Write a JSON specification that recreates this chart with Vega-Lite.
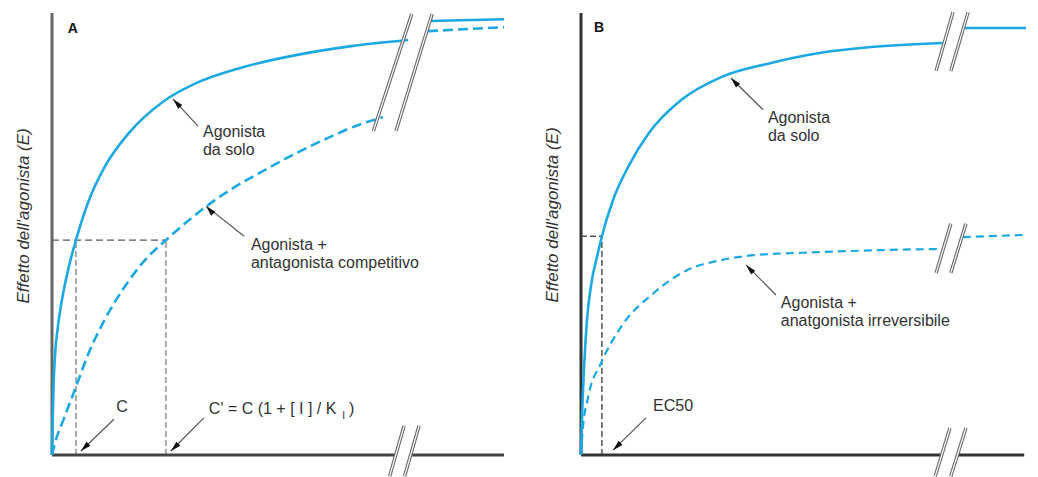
{
  "$schema": "https://vega.github.io/schema/vega-lite/v6.json",
  "background": "white",
  "padding": {"left": 14, "top": 10, "right": 0, "bottom": 0},
  "autosize": {"type": "pad"},
  "bounds": "flush",
  "spacing": 77,
  "config": {"view": {"stroke": null}, "font": "Liberation Sans"},
  "hconcat": [
    {
      "width": 452,
      "height": 442,
      "encoding": {
        "x": {"field": "x", "type": "quantitative", "scale": {"domain": [0, 100], "nice": false}, "axis": null},
        "y": {"field": "y", "type": "quantitative", "scale": {"domain": [0, 100], "nice": false}, "axis": null}
      },
      "layer": [
        {
          "data": {"values": [{"x": -5.1, "y": 54.1, "t": "Effetto dell'agonista (E)"}]},
          "mark": {"type": "text", "angle": 270, "align": "center", "baseline": "alphabetic", "fontSize": 17, "fontStyle": "italic", "font": "Liberation Sans", "color": "#333333"},
          "encoding": {"text": {"field": "t", "type": "nominal"}}
        },
        {
          "data": {"values": [{"x": 0, "y": 48.6, "x2": 25.2, "y2": 48.6}]},
          "mark": {"type": "rule", "color": "#555555", "strokeWidth": 1.2, "strokeDash": [7, 4]},
          "encoding": {"x2": {"field": "x2"}, "y2": {"field": "y2"}}
        },
        {
          "data": {"values": [{"x": 5.3, "y": 0, "x2": 5.3, "y2": 48.6}, {"x": 25.2, "y": 0, "x2": 25.2, "y2": 48.6}]},
          "mark": {"type": "rule", "color": "#aaaaaa", "strokeWidth": 2, "strokeDash": [6, 3]},
          "encoding": {"x2": {"field": "x2"}, "y2": {"field": "y2"}}
        },
        {
          "data": {"values": [{"x": 0, "y": 0, "x2": 0, "y2": 100}]},
          "mark": {"type": "rule", "color": "#666666", "strokeWidth": 3},
          "encoding": {"x2": {"field": "x2"}, "y2": {"field": "y2"}}
        },
        {
          "data": {"values": [{"x": 0, "y": 0, "x2": 76.0, "y2": 0}, {"x": 79.3, "y": 0, "x2": 100, "y2": 0}]},
          "mark": {"type": "rule", "color": "#444444", "strokeWidth": 3},
          "encoding": {"x2": {"field": "x2"}, "y2": {"field": "y2"}}
        },
        {
          "data": {"values": [
            {"seg": 1, "x": 0, "y": 0}, {"seg": 1, "x": 0.15, "y": 8}, {"seg": 1, "x": 0.35, "y": 16}, {"seg": 1, "x": 0.7, "y": 23},
            {"seg": 1, "x": 1.3, "y": 29}, {"seg": 1, "x": 2.1, "y": 34.5}, {"seg": 1, "x": 3.7, "y": 42.5}, {"seg": 1, "x": 5.3, "y": 48.6},
            {"seg": 1, "x": 8.0, "y": 57.2}, {"seg": 1, "x": 11.5, "y": 64.9}, {"seg": 1, "x": 16.8, "y": 72.6}, {"seg": 1, "x": 24.8, "y": 80.1},
            {"seg": 1, "x": 31.4, "y": 83.9}, {"seg": 1, "x": 41.8, "y": 87.6}, {"seg": 1, "x": 55.1, "y": 90.7}, {"seg": 1, "x": 66.2, "y": 92.5},
            {"seg": 1, "x": 78.8, "y": 93.9},
            {"seg": 2, "x": 83.4, "y": 98.2}, {"seg": 2, "x": 100, "y": 98.6}
          ]},
          "mark": {"type": "line", "color": "#1ca8e3", "strokeWidth": 2.6, "interpolate": "monotone"},
          "encoding": {"detail": {"field": "seg"}}
        },
        {
          "data": {"values": [
            {"seg": 1, "x": 0, "y": 0}, {"seg": 1, "x": 0.6, "y": 2.5}, {"seg": 1, "x": 2.7, "y": 8.4}, {"seg": 1, "x": 5.3, "y": 15.4},
            {"seg": 1, "x": 8.0, "y": 22.8}, {"seg": 1, "x": 11.5, "y": 30.3}, {"seg": 1, "x": 15.9, "y": 37.8}, {"seg": 1, "x": 20.4, "y": 43.9},
            {"seg": 1, "x": 25.2, "y": 48.6}, {"seg": 1, "x": 35.8, "y": 57.5}, {"seg": 1, "x": 47.8, "y": 64.9}, {"seg": 1, "x": 59.5, "y": 71.0},
            {"seg": 1, "x": 68.4, "y": 74.9}, {"seg": 1, "x": 73.2, "y": 76.4},
            {"seg": 2, "x": 83.2, "y": 95.9}, {"seg": 2, "x": 100, "y": 96.8}
          ]},
          "mark": {"type": "line", "color": "#1ca8e3", "strokeWidth": 2.6, "strokeDash": [10, 5], "interpolate": "monotone"},
          "encoding": {"detail": {"field": "seg"}}
        },
        {
          "data": {"values": [
            {"x": 79.6, "y": 99.8, "x2": 71.1, "y2": 73.3}, {"x": 84.1, "y": 99.8, "x2": 76.1, "y2": 73.3},
            {"x": 77.9, "y": 6.6, "x2": 74.7, "y2": -4.8}, {"x": 81.2, "y": 6.6, "x2": 78.0, "y2": -4.8}
          ]},
          "layer": [
            {"mark": {"type": "rule", "color": "#666666", "strokeWidth": 3.4}, "encoding": {"x2": {"field": "x2"}, "y2": {"field": "y2"}}},
            {"mark": {"type": "rule", "color": "#ffffff", "strokeWidth": 1.2}, "encoding": {"x2": {"field": "x2"}, "y2": {"field": "y2"}}}
          ]
        },
        {
          "data": {"values": [
            {"x": 32.3, "y": 74.4, "x2": 26.8, "y2": 80.5, "dir": "ul"},
            {"x": 42.5, "y": 49.5, "x2": 34.1, "y2": 56.3, "dir": "ul"},
            {"x": 13.7, "y": 8.1, "x2": 6.4, "y2": 0.9, "dir": "dl"},
            {"x": 33.6, "y": 8.4, "x2": 26.3, "y2": 0.9, "dir": "dl"}
          ]},
          "layer": [
            {"mark": {"type": "rule", "color": "#555555", "strokeWidth": 1.2}, "encoding": {"x2": {"field": "x2"}, "y2": {"field": "y2"}}},
            {
              "transform": [{"filter": "datum.dir === 'ul'"}],
              "mark": {"type": "point", "shape": "M0,0L0.6,2.2L-0.6,2.2Z", "filled": true, "color": "#111111", "size": 90, "angle": -43, "opacity": 1},
              "encoding": {
                "x": {"field": "x2", "type": "quantitative", "scale": {"domain": [0, 100], "nice": false}, "axis": null},
                "y": {"field": "y2", "type": "quantitative", "scale": {"domain": [0, 100], "nice": false}, "axis": null}
              }
            },
            {
              "transform": [{"filter": "datum.dir === 'dl'"}],
              "mark": {"type": "point", "shape": "M0,0L0.6,2.2L-0.6,2.2Z", "filled": true, "color": "#111111", "size": 90, "angle": -134, "opacity": 1},
              "encoding": {
                "x": {"field": "x2", "type": "quantitative", "scale": {"domain": [0, 100], "nice": false}, "axis": null},
                "y": {"field": "y2", "type": "quantitative", "scale": {"domain": [0, 100], "nice": false}, "axis": null}
              }
            }
          ]
        },
        {
          "data": {"values": [
            {"x": 33.4, "y": 71.9, "t": "Agonista\nda solo"},
            {"x": 44.0, "y": 46.4, "t": "Agonista +\nantagonista competitivo"},
            {"x": 14.2, "y": 9.7, "t": "C"},
            {"x": 34.7, "y": 9.3, "t": "C' = C (1 + [ I ] / K"},
            {"x": 65.7, "y": 9.3, "t": ")"}
          ]},
          "mark": {"type": "text", "align": "left", "baseline": "alphabetic", "fontSize": 16, "font": "Liberation Sans", "color": "#333333", "lineBreak": "\n", "lineHeight": 18},
          "encoding": {"text": {"field": "t", "type": "nominal"}}
        },
        {
          "data": {"values": [{"x": 64.2, "y": 8.2, "t": "I"}]},
          "mark": {"type": "text", "align": "left", "baseline": "alphabetic", "fontSize": 10, "font": "Liberation Sans", "color": "#333333"},
          "encoding": {"text": {"field": "t", "type": "nominal"}}
        },
        {
          "data": {"values": [{"x": 3.5, "y": 95.5, "t": "A"}]},
          "mark": {"type": "text", "align": "left", "baseline": "alphabetic", "fontSize": 14, "fontWeight": "bold", "font": "Liberation Sans", "color": "#111111"},
          "encoding": {"text": {"field": "t", "type": "nominal"}}
        }
      ]
    },
    {
      "width": 445,
      "height": 442,
      "encoding": {
        "x": {"field": "x", "type": "quantitative", "scale": {"domain": [0, 100], "nice": false}, "axis": null},
        "y": {"field": "y", "type": "quantitative", "scale": {"domain": [0, 100], "nice": false}, "axis": null}
      },
      "layer": [
        {
          "data": {"values": [{"x": -5.2, "y": 54.3, "t": "Effetto dell'agonista (E)"}]},
          "mark": {"type": "text", "angle": 270, "align": "center", "baseline": "alphabetic", "fontSize": 17, "fontStyle": "italic", "font": "Liberation Sans", "color": "#333333"},
          "encoding": {"text": {"field": "t", "type": "nominal"}}
        },
        {
          "data": {"values": [{"x": 0, "y": 49.5, "x2": 4.7, "y2": 49.5}, {"x": 4.7, "y": 0, "x2": 4.7, "y2": 49.5}]},
          "mark": {"type": "rule", "color": "#555555", "strokeWidth": 1.5, "strokeDash": [6, 3]},
          "encoding": {"x2": {"field": "x2"}, "y2": {"field": "y2"}}
        },
        {
          "data": {"values": [{"x": 0, "y": 0, "x2": 0, "y2": 100}, {"x": 0, "y": 0, "x2": 81.0, "y2": 0}, {"x": 84.6, "y": 0, "x2": 99.6, "y2": 0}]},
          "mark": {"type": "rule", "color": "#333333", "strokeWidth": 3},
          "encoding": {"x2": {"field": "x2"}, "y2": {"field": "y2"}}
        },
        {
          "data": {"values": [
            {"seg": 1, "x": 0, "y": 0}, {"seg": 1, "x": 0.25, "y": 9}, {"seg": 1, "x": 0.7, "y": 20}, {"seg": 1, "x": 1.3, "y": 30},
            {"seg": 1, "x": 2.2, "y": 38.0}, {"seg": 1, "x": 3.8, "y": 45.7}, {"seg": 1, "x": 4.7, "y": 49.5}, {"seg": 1, "x": 7.2, "y": 57.7},
            {"seg": 1, "x": 10.6, "y": 65.2}, {"seg": 1, "x": 15.3, "y": 72.9}, {"seg": 1, "x": 22.5, "y": 80.3}, {"seg": 1, "x": 31.5, "y": 85.5},
            {"seg": 1, "x": 42.7, "y": 88.7}, {"seg": 1, "x": 53.9, "y": 91.0}, {"seg": 1, "x": 65.2, "y": 92.3}, {"seg": 1, "x": 81.3, "y": 93.2},
            {"seg": 2, "x": 85.8, "y": 96.6}, {"seg": 2, "x": 100, "y": 96.6}
          ]},
          "mark": {"type": "line", "color": "#1ca8e3", "strokeWidth": 2.6, "interpolate": "monotone"},
          "encoding": {"detail": {"field": "seg"}}
        },
        {
          "data": {"values": [
            {"seg": 1, "x": 0, "y": 0}, {"seg": 1, "x": 0.4, "y": 5.7}, {"seg": 1, "x": 1.6, "y": 13.1}, {"seg": 1, "x": 4.5, "y": 20.8},
            {"seg": 1, "x": 9.0, "y": 29.0}, {"seg": 1, "x": 16.4, "y": 36.7}, {"seg": 1, "x": 24.0, "y": 41.9}, {"seg": 1, "x": 31.5, "y": 44.1},
            {"seg": 1, "x": 38.9, "y": 45.2}, {"seg": 1, "x": 53.9, "y": 45.9}, {"seg": 1, "x": 69.0, "y": 46.4}, {"seg": 1, "x": 81.3, "y": 46.6},
            {"seg": 2, "x": 85.8, "y": 49.3}, {"seg": 2, "x": 100, "y": 49.8}
          ]},
          "mark": {"type": "line", "color": "#1ca8e3", "strokeWidth": 2.2, "strokeDash": [8, 5], "interpolate": "monotone"},
          "encoding": {"detail": {"field": "seg"}}
        },
        {
          "data": {"values": [
            {"x": 83.6, "y": 100.2, "x2": 79.8, "y2": 86.9}, {"x": 87.0, "y": 100.2, "x2": 83.1, "y2": 86.9},
            {"x": 83.1, "y": 52.3, "x2": 79.8, "y2": 41.2}, {"x": 86.5, "y": 52.3, "x2": 83.1, "y2": 41.2},
            {"x": 82.9, "y": 6.1, "x2": 79.6, "y2": -4.8}, {"x": 86.5, "y": 6.1, "x2": 83.1, "y2": -4.8}
          ]},
          "layer": [
            {"mark": {"type": "rule", "color": "#666666", "strokeWidth": 3.4}, "encoding": {"x2": {"field": "x2"}, "y2": {"field": "y2"}}},
            {"mark": {"type": "rule", "color": "#ffffff", "strokeWidth": 1.2}, "encoding": {"x2": {"field": "x2"}, "y2": {"field": "y2"}}}
          ]
        },
        {
          "data": {"values": [
            {"x": 40.9, "y": 78.1, "x2": 33.7, "y2": 85.3, "dir": "ul"},
            {"x": 43.8, "y": 36.2, "x2": 37.1, "y2": 43.0, "dir": "ul"},
            {"x": 14.6, "y": 8.4, "x2": 7.2, "y2": 1.1, "dir": "dl"}
          ]},
          "layer": [
            {"mark": {"type": "rule", "color": "#555555", "strokeWidth": 1.2}, "encoding": {"x2": {"field": "x2"}, "y2": {"field": "y2"}}},
            {
              "transform": [{"filter": "datum.dir === 'ul'"}],
              "mark": {"type": "point", "shape": "M0,0L0.6,2.2L-0.6,2.2Z", "filled": true, "color": "#111111", "size": 90, "angle": -43, "opacity": 1},
              "encoding": {
                "x": {"field": "x2", "type": "quantitative", "scale": {"domain": [0, 100], "nice": false}, "axis": null},
                "y": {"field": "y2", "type": "quantitative", "scale": {"domain": [0, 100], "nice": false}, "axis": null}
              }
            },
            {
              "transform": [{"filter": "datum.dir === 'dl'"}],
              "mark": {"type": "point", "shape": "M0,0L0.6,2.2L-0.6,2.2Z", "filled": true, "color": "#111111", "size": 90, "angle": -134, "opacity": 1},
              "encoding": {
                "x": {"field": "x2", "type": "quantitative", "scale": {"domain": [0, 100], "nice": false}, "axis": null},
                "y": {"field": "y2", "type": "quantitative", "scale": {"domain": [0, 100], "nice": false}, "axis": null}
              }
            }
          ]
        },
        {
          "data": {"values": [
            {"x": 42.0, "y": 75.1, "t": "Agonista\nda solo"},
            {"x": 44.9, "y": 33.3, "t": "Agonista +\nanatgonista irreversibile"},
            {"x": 16.2, "y": 10.0, "t": "EC50"}
          ]},
          "mark": {"type": "text", "align": "left", "baseline": "alphabetic", "fontSize": 16, "font": "Liberation Sans", "color": "#333333", "lineBreak": "\n", "lineHeight": 18},
          "encoding": {"text": {"field": "t", "type": "nominal"}}
        },
        {
          "data": {"values": [{"x": 2.9, "y": 95.7, "t": "B"}]},
          "mark": {"type": "text", "align": "left", "baseline": "alphabetic", "fontSize": 14, "fontWeight": "bold", "font": "Liberation Sans", "color": "#111111"},
          "encoding": {"text": {"field": "t", "type": "nominal"}}
        }
      ]
    }
  ]
}
